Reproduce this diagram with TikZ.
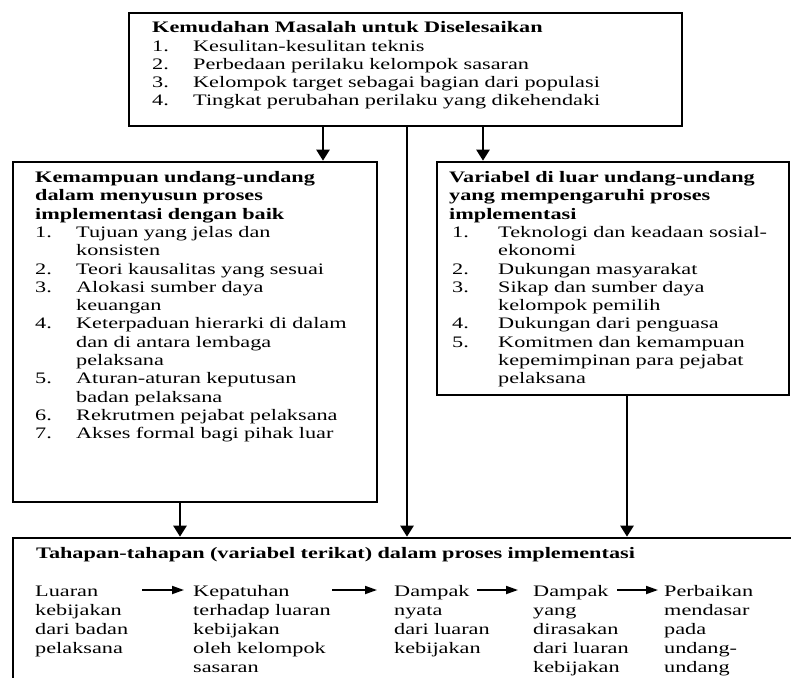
\documentclass[tikz,border=0pt]{standalone}
\usepackage{fontspec}
\setmainfont{Liberation Serif}[FakeStretch=1.39]
\usetikzlibrary{arrows.meta}

% width of the number column in the numbered lists
\newlength{\numw}
\newcommand{\entry}[2]{\par\hangindent=\numw\hangafter=1\noindent\makebox[\numw][l]{#1}#2}

\begin{document}
\begin{tikzpicture}[x=1pt,y=-1pt,
  frame/.style={draw=black, line width=2.6pt, inner sep=0pt, minimum width=#1},
  txt/.style={anchor=north west, inner sep=0pt, text width=#1, align=left,
              font=\fontsize{16}{18.3}\selectfont},
  coltxt/.style={anchor=north west, inner sep=0pt, text width=150pt, align=left,
              font=\fontsize{16}{19}\selectfont},
  link/.style={line width=2.4pt, -{Triangle[length=11pt,width=13pt]}},
  stage/.style={line width=1.8pt, -{Triangle[length=12pt,width=8pt]}},
]
\clip (0,0) rectangle (791,677);
\fill[white] (0,0) rectangle (791,677);

% boxes
\node[frame=553pt, minimum height=113pt] (top) at (405.5,69.5) {};
\node[frame=364pt, minimum height=340pt] (left) at (195,332) {};
\node[frame=352pt, minimum height=233pt] (right) at (613,278.5) {};
\node[frame=807pt, minimum height=182pt] (bottom) at (416.5,629) {};

% top box text
\node[txt=520pt] (toptext) at (152,19.7) {\setlength{\numw}{41pt}\strut
\textbf{Kemudahan Masalah untuk Diselesaikan}
\entry{1.}{Kesulitan-kesulitan teknis}
\entry{2.}{Perbedaan perilaku kelompok sasaran}
\entry{3.}{Kelompok target sebagai bagian dari populasi}
\entry{4.}{Tingkat perubahan perilaku yang dikehendaki}\par};

% left box text
\node[txt=340pt] (lefttext) at (35,169.5) {\setlength{\numw}{41pt}\strut
\textbf{Kemampuan undang-undang\newline dalam menyusun proses\newline implementasi dengan baik}
\entry{1.}{Tujuan yang jelas dan\newline konsisten}
\entry{2.}{Teori kausalitas yang sesuai}
\entry{3.}{Alokasi sumber daya\newline keuangan}
\entry{4.}{Keterpaduan hierarki di dalam\newline dan di antara lembaga\newline pelaksana}
\entry{5.}{Aturan-aturan keputusan\newline badan pelaksana}
\entry{6.}{Rekrutmen pejabat pelaksana}
\entry{7.}{Akses formal bagi pihak luar}\par};

% right box text
\node[txt=345pt] (righttext) at (449,169.5) {\setlength{\numw}{49pt}\strut
\textbf{Variabel di luar undang-undang\newline yang mempengaruhi proses\newline implementasi}
\entry{\hspace*{3pt}1.}{Teknologi dan keadaan sosial-\newline ekonomi}
\entry{\hspace*{3pt}2.}{Dukungan masyarakat}
\entry{\hspace*{3pt}3.}{Sikap dan sumber daya\newline kelompok pemilih}
\entry{\hspace*{3pt}4.}{Dukungan dari penguasa}
\entry{\hspace*{3pt}5.}{Komitmen dan kemampuan\newline kepemimpinan para pejabat\newline pelaksana}\par};

% bottom box text
\node[txt=700pt] (bottomtitle) at (36,545.7) {\strut\textbf{Tahapan-tahapan (variabel terikat) dalam proses implementasi}};
\node[coltxt] (c1) at (35,583) {\strut Luaran\\ kebijakan\\ dari badan\\ pelaksana};
\node[coltxt] (c2) at (193,583) {\strut Kepatuhan\\ terhadap luaran\\ kebijakan\\ oleh kelompok\\ sasaran};
\node[coltxt] (c3) at (394,583) {\strut Dampak\\ nyata\\ dari luaran\\ kebijakan};
\node[coltxt] (c4) at (533,583) {\strut Dampak\\ yang\\ dirasakan\\ dari luaran\\ kebijakan};
\node[coltxt] (c5) at (664,583) {\strut Perbaikan\\ mendasar\\ pada\\ undang-\\ undang};

% connectors between boxes
\draw[link] (323,0 |- top.south) -- (323,0 |- left.north);
\draw[link] (407,0 |- top.south) -- (407,0 |- bottom.north);
\draw[link] (483,0 |- top.south) -- (483,0 |- right.north);
\draw[link] (180,0 |- left.south) -- (180,0 |- bottom.north);
\draw[link] (627,0 |- right.south) -- (627,0 |- bottom.north);

% stage arrows
\draw[stage] ([xshift=107pt,yshift=-7pt]c1.north west) -- ([xshift=-9pt,yshift=-7pt]c2.north west);
\draw[stage] ([xshift=139pt,yshift=-7pt]c2.north west) -- ([xshift=-17pt,yshift=-7pt]c3.north west);
\draw[stage] ([xshift=83pt,yshift=-7pt]c3.north west) -- ([xshift=-15pt,yshift=-7pt]c4.north west);
\draw[stage] ([xshift=84pt,yshift=-7pt]c4.north west) -- ([xshift=-6pt,yshift=-7pt]c5.north west);
\end{tikzpicture}
\end{document}
